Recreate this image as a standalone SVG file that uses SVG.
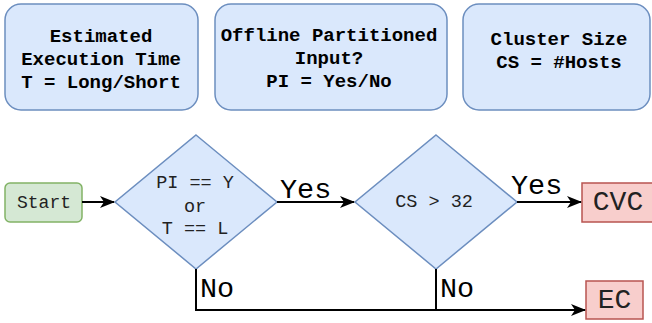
<svg xmlns="http://www.w3.org/2000/svg" width="652" height="323" viewBox="0 0 652 323">
<defs>
<style>
.info{fill:#dae8fc;stroke:#6c8ebf;stroke-width:1.5}
.dec{fill:#dae8fc;stroke:#6c8ebf;stroke-width:1.5}
.start{fill:#d5e8d4;stroke:#82b366;stroke-width:1.5}
.end{fill:#f8cecc;stroke:#b85450;stroke-width:1.5}
.bt{font-family:"Liberation Mono","Courier New",monospace;font-weight:bold;font-size:19px;fill:#000;text-anchor:middle}
.nt{font-family:"Liberation Mono","Courier New",monospace;font-size:18.5px;fill:#222;text-anchor:middle}
.lt{font-family:"Liberation Mono","Courier New",monospace;font-size:28.5px;fill:#000}
.et{font-family:"Liberation Mono","Courier New",monospace;font-size:28px;fill:#222;text-anchor:middle}
.conn{fill:none;stroke:#000;stroke-width:2}
</style>
<marker id="arr" viewBox="0 0 15 12" refX="14" refY="6" markerWidth="15" markerHeight="12" markerUnits="userSpaceOnUse" orient="auto">
<path d="M0,0 L15,6 L0,12 L4,6 Z" fill="#000"/>
</marker>
</defs>
<g id="box-time">
<rect class="info" x="5" y="4" width="193" height="106" rx="16"/>
<text class="bt" x="101" y="41.5">Estimated</text>
<text class="bt" x="101" y="65">Execution Time</text>
<text class="bt" x="101" y="88.3">T = Long/Short</text>
</g>
<g id="box-input">
<rect class="info" x="215" y="4" width="232" height="106" rx="16"/>
<text class="bt" x="329" y="40.7">Offline Partitioned</text>
<text class="bt" x="329" y="64">Input?</text>
<text class="bt" x="329" y="87.3">PI = Yes/No</text>
</g>
<g id="box-cluster">
<rect class="info" x="463" y="4" width="187" height="106" rx="16"/>
<text class="bt" x="559" y="45">Cluster Size</text>
<text class="bt" x="559" y="68.3">CS = #Hosts</text>
</g>
<g id="start">
<rect class="start" x="5" y="183" width="77" height="39" rx="5"/>
<text class="nt" x="44" y="208.3" style="font-size:18px">Start</text>
</g>
<g id="decision1">
<polygon class="dec" points="196,135 277,202 196,269 115,202"/>
<text class="nt" x="195" y="188.3">PI == Y</text>
<text class="nt" x="195" y="211.7">or</text>
<text class="nt" x="195" y="234.3">T == L</text>
</g>
<g id="decision2">
<polygon class="dec" points="436,135 517,202 436,269 355,202"/>
<text class="nt" x="434" y="207.3">CS &gt; 32</text>
</g>
<g id="cvc">
<rect class="end" x="582" y="183" width="72" height="39"/>
<text class="et" x="618" y="210">CVC</text>
</g>
<g id="ec">
<rect class="end" x="586" y="281" width="57" height="38"/>
<text class="et" x="614.5" y="308.3">EC</text>
</g>
<g id="connectors">
<line class="conn" x1="82" y1="202" x2="114" y2="202" marker-end="url(#arr)"/>
<line class="conn" x1="277" y1="202" x2="354" y2="202" marker-end="url(#arr)"/>
<line class="conn" x1="517" y1="202" x2="581" y2="202" marker-end="url(#arr)"/>
<path class="conn" d="M196,269 V310 H585" marker-end="url(#arr)"/>
<path class="conn" d="M436,269 V310"/>
<text class="lt" x="280" y="198.3">Yes</text>
<text class="lt" x="511" y="194">Yes</text>
<text class="lt" x="200" y="297.3">No</text>
<text class="lt" x="440" y="297.3">No</text>
</g>
</svg>
